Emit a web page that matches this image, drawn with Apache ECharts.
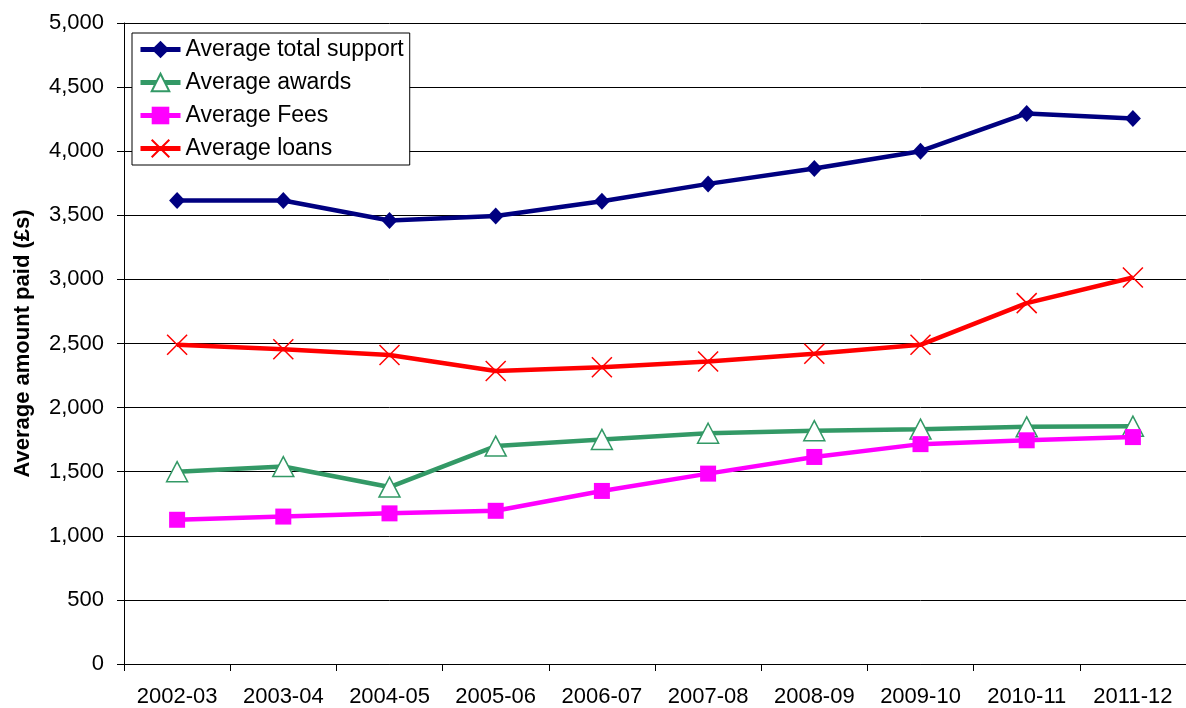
<!DOCTYPE html>
<html>
<head>
<meta charset="utf-8">
<script src="https://cdn.jsdelivr.net/npm/echarts@6/dist/echarts.min.js"></script>
<style>
  html, body { margin: 0; padding: 0; background: #fff; }
  #chart { width: 1186px; height: 708px; }
</style>
</head>
<body>
<div id="chart"></div>
<script>
// Academic years on the category axis
const years = ['2002-03', '2003-04', '2004-05', '2005-06', '2006-07',
               '2007-08', '2008-09', '2009-10', '2010-11', '2011-12'];

// Average amounts paid per student (£)
const totalSupport = [3615, 3615, 3460, 3495, 3610, 3745, 3865, 4000, 4295, 4255];
const awards       = [1500, 1540, 1380, 1700, 1752, 1800, 1820, 1832, 1850, 1855];
const fees         = [1125, 1150, 1175, 1195, 1350, 1485, 1615, 1715, 1745, 1770];
const loans        = [2490, 2455, 2410, 2285, 2315, 2360, 2420, 2490, 2815, 3015];

const yTicks = { min: 0, max: 5000, interval: 500 };

const FONT = "'Liberation Sans', Arial, sans-serif";

const chart = echarts.init(document.getElementById('chart'), null, { renderer: 'canvas' });

chart.setOption({
  animation: false,
  backgroundColor: '#ffffff',
  textStyle: { fontFamily: FONT },
  grid: { left: 124, top: 23, width: 1073, height: 642, containLabel: false },
  legend: {
    left: 132, top: 33,
    orient: 'vertical',
    backgroundColor: '#ffffff',
    borderColor: '#000000',
    borderWidth: 1,
    padding: [5, 6, 5, 6],
    itemWidth: 40,
    itemHeight: 22,
    itemGap: 10,
    lineStyle: { width: 5 },
    textStyle: { fontFamily: FONT, fontSize: 23, color: '#000000' },
    data: ['Average total support', 'Average awards', 'Average Fees', 'Average loans']
  },
  xAxis: {
    type: 'category',
    data: years,
    boundaryGap: true,
    axisLine: { lineStyle: { color: '#000000', width: 1 } },
    axisTick: { show: true, alignWithLabel: false, length: 7, lineStyle: { color: '#000000' } },
    axisLabel: { fontFamily: FONT, fontSize: 22, color: '#000000', margin: 22, interval: 0 },
    splitLine: { show: false }
  },
  yAxis: {
    type: 'value',
    min: yTicks.min, max: yTicks.max, interval: yTicks.interval,
    name: 'Average amount paid (£s)',
    nameLocation: 'middle',
    nameGap: 90,
    nameTextStyle: { fontFamily: FONT, fontSize: 22, fontWeight: 'bold', color: '#000000' },
    axisLine: { show: true, lineStyle: { color: '#000000', width: 1 } },
    axisTick: { show: true, length: 7, lineStyle: { color: '#000000' } },
    axisLabel: {
      fontFamily: FONT, fontSize: 22, color: '#000000', margin: 20,
      formatter: v => v.toLocaleString('en-US')
    },
    splitLine: { show: true, lineStyle: { color: '#000000', width: 1 } }
  },
  series: [
    {
      name: 'Average total support',
      type: 'line',
      data: totalSupport,
      symbol: 'diamond',
      symbolSize: [16, 17],
      lineStyle: { color: '#000080', width: 4.5 },
      itemStyle: { color: '#000080' },
      z: 2
    },
    {
      name: 'Average awards',
      type: 'line',
      data: awards,
      symbol: 'triangle',
      symbolSize: [21, 20],
      lineStyle: { color: '#339966', width: 4.5 },
      itemStyle: { color: '#ffffff', borderColor: '#339966', borderWidth: 1.5 },
      z: 3
    },
    {
      name: 'Average Fees',
      type: 'line',
      data: fees,
      symbol: 'rect',
      symbolSize: 16,
      lineStyle: { color: '#ff00ff', width: 4.5 },
      itemStyle: { color: '#ff00ff' },
      z: 4
    },
    {
      name: 'Average loans',
      type: 'line',
      data: loans,
      symbol: 'path://M0,0L10,10M10,0L0,10',
      symbolSize: 20,
      lineStyle: { color: '#ff0000', width: 4.5 },
      itemStyle: { color: 'rgba(0,0,0,0)', borderColor: '#ff0000', borderWidth: 1.5 },
      z: 5
    }
  ]
});
</script>
</body>
</html>
